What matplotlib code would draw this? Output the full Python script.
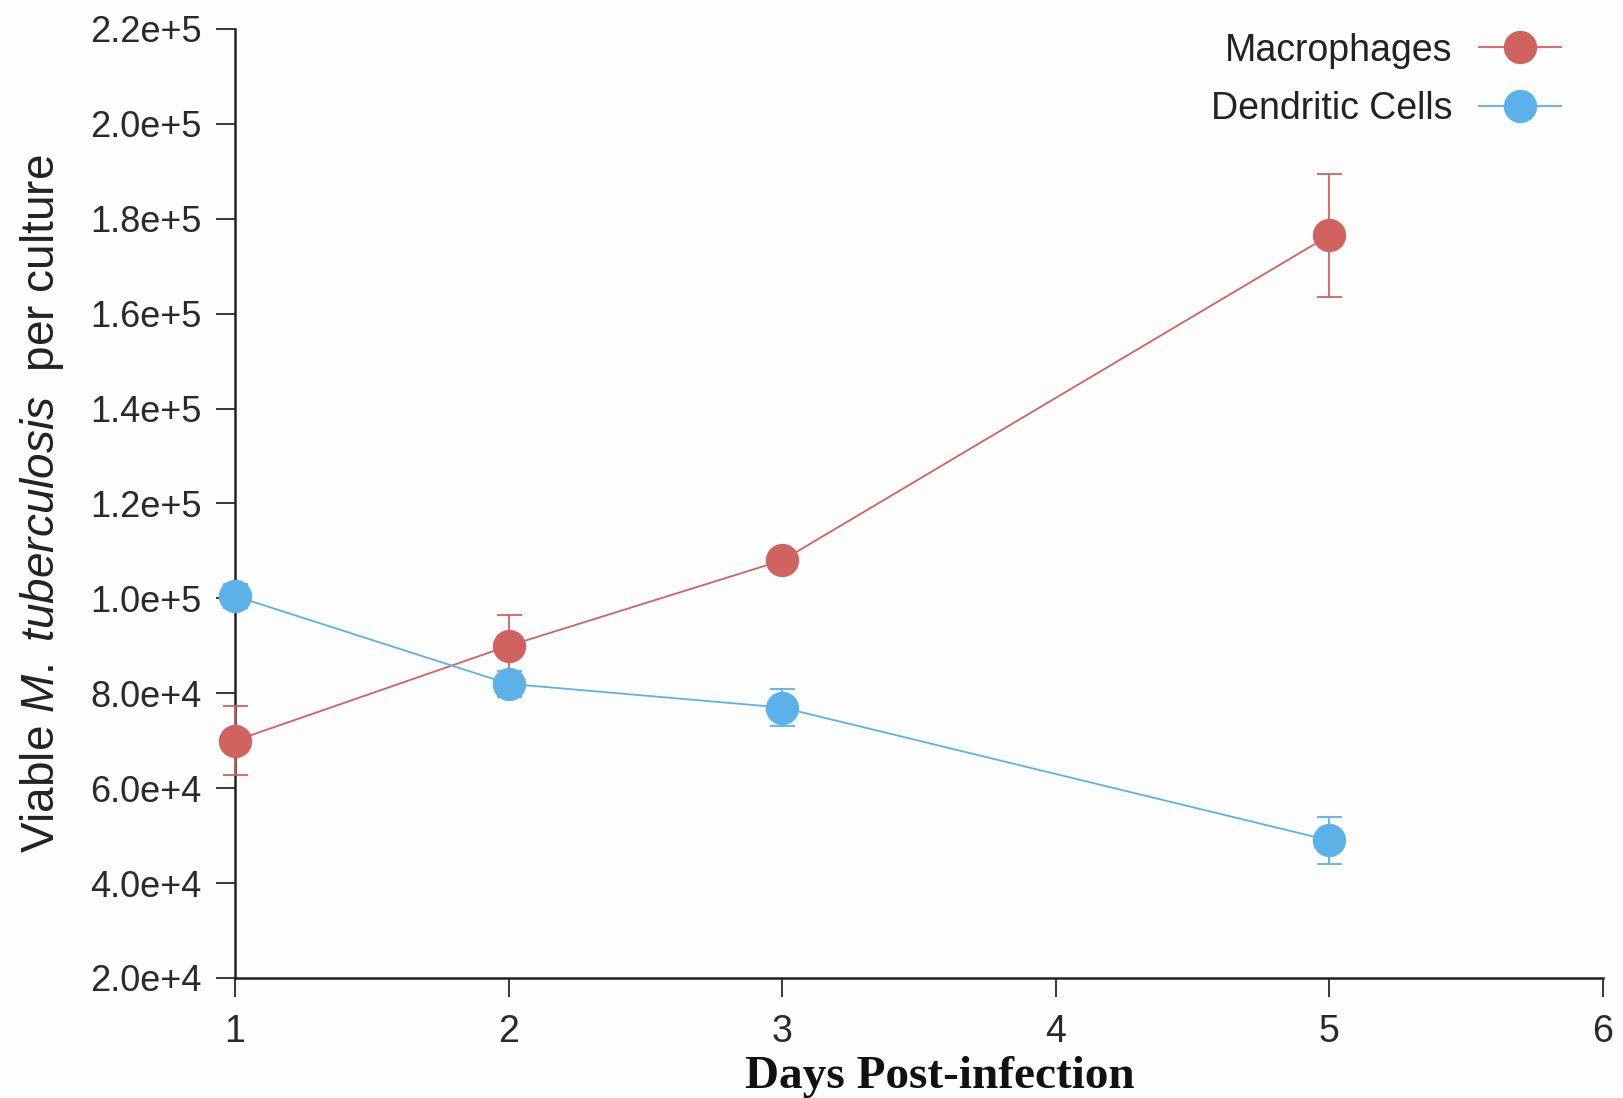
import matplotlib as mpl
import matplotlib.pyplot as plt
from matplotlib.lines import Line2D

mpl.rcParams['font.family'] = ['Liberation Sans', 'DejaVu Sans']
mpl.rcParams['mathtext.fontset'] = 'custom'
mpl.rcParams['mathtext.rm'] = 'Liberation Sans'
mpl.rcParams['mathtext.it'] = 'Liberation Sans:italic'

days = [1, 2, 3, 5]
macro = [7.0e4, 9.0e4, 1.08e5, 1.765e5]
macro_err = [7.3e3, 6.4e3, 1.5e3, 1.3e4]
dc = [1.005e5, 8.2e4, 7.7e4, 4.9e4]
dc_err = [2.5e3, 2.8e3, 3.8e3, 5.0e3]
yticks = [2e4 * i for i in range(1, 12)]
ylabels = ['2.0e+4', '4.0e+4', '6.0e+4', '8.0e+4', '1.0e+5', '1.2e+5',
           '1.4e+5', '1.6e+5', '1.8e+5', '2.0e+5', '2.2e+5']

red = '#d0625f'
blue = '#5cb2e8'

fig = plt.figure(figsize=(16.24, 10.98), dpi=100)
fig.patch.set_facecolor('#fdfdfd')
ax = fig.add_axes([0.1447, 0.1093, 0.8423, 0.8643])
ax.set_facecolor('#fdfdfd')

ax.errorbar(days, macro, yerr=macro_err, color=red, lw=1.3, elinewidth=1.3,
            capsize=9, capthick=1.3, marker='o', ms=23, mec=red, mfc=red,
            clip_on=False, zorder=3)
ax.errorbar(days, dc, yerr=dc_err, color=blue, lw=1.3, elinewidth=1.3,
            capsize=9, capthick=1.3, marker='o', ms=23, mec=blue, mfc=blue,
            clip_on=False, zorder=3)

ax.set_xlim(1, 6)
ax.set_ylim(2e4, 2.2e5)
ax.set_xticks([1, 2, 3, 4, 5, 6])
ax.set_yticks(yticks)
ax.set_yticklabels(ylabels)
ax.spines['top'].set_visible(False)
ax.spines['right'].set_visible(False)
for s in ['left', 'bottom']:
    ax.spines[s].set_linewidth(1.8)
    ax.spines[s].set_color('#222222')
ax.tick_params(axis='y', length=14, width=1.3, labelsize=26, pad=10, colors='#2a2a2a')
ax.tick_params(axis='x', length=14, width=1.3, labelsize=27, pad=12, colors='#2a2a2a')

ax.set_xlabel('Days Post-infection', family=['Liberation Serif'], fontweight='bold',
              fontsize=34, color='#111111')
ax.xaxis.set_label_coords(0.515, -0.082)
ax.set_ylabel('Viable $\\it{M.\\ tuberculosis}$  per culture', fontsize=33,
              labelpad=17, color='#222222')

handles = [Line2D([], [], color=red, lw=1.3, marker='o', ms=23),
           Line2D([], [], color=blue, lw=1.3, marker='o', ms=23)]
leg = ax.legend(handles, ['Macrophages', 'Dendritic Cells'], loc='upper right',
                frameon=False, markerfirst=False, fontsize=27, handlelength=2.2,
                borderaxespad=0.2, labelspacing=0.6, handletextpad=0.7,
                bbox_to_anchor=(0.986, 1.02))
for t in leg.get_texts():
    t.set_color('#222222')

fig.savefig('out.png', dpi=100, facecolor=fig.get_facecolor())
